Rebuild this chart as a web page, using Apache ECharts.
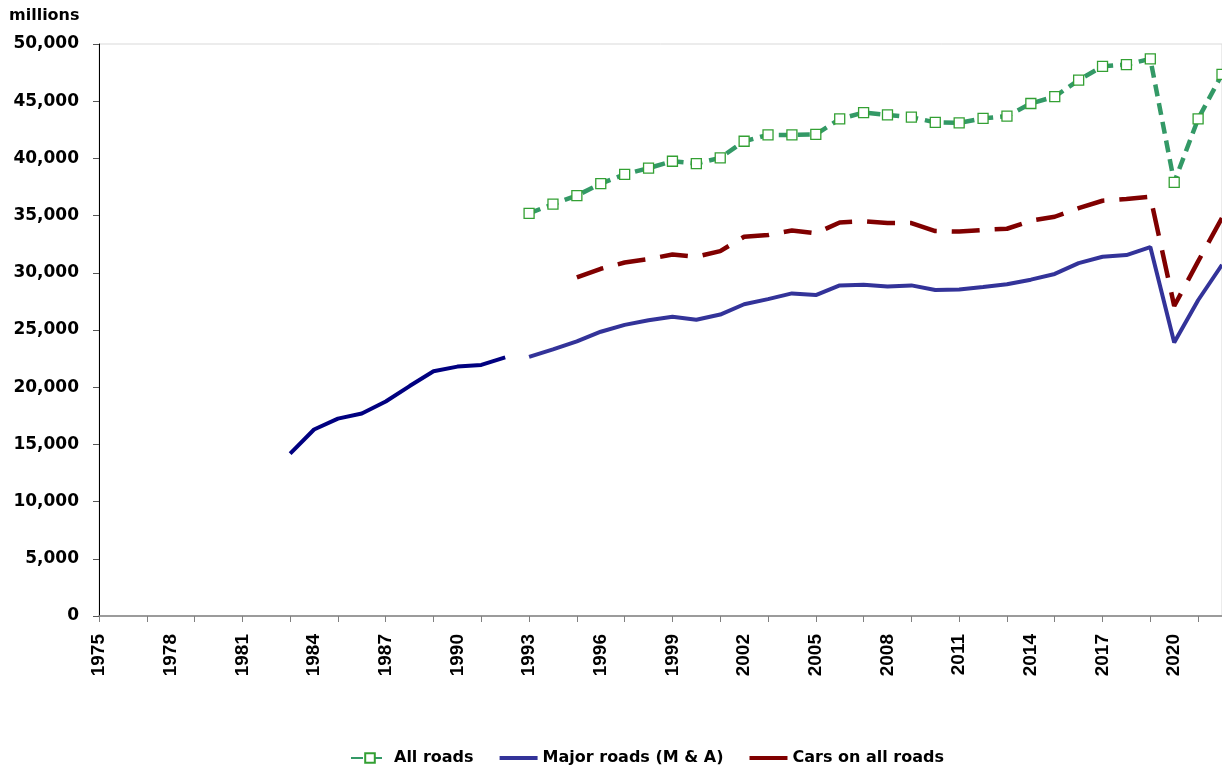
<!DOCTYPE html>
<html>
<head>
<meta charset="utf-8">
<script src="https://cdn.jsdelivr.net/npm/echarts@6/dist/echarts.min.js"></script>
<style>
html,body{margin:0;padding:0;background:#fff;}
#chart{width:1222px;height:769px;}
</style>
</head>
<body>
<div id="chart"></div>
<script>
var years = [];
for (var y = 1975; y <= 2022; y++) years.push(String(y));

var yTicks = [0, 5000, 10000, 15000, 20000, 25000, 30000, 35000, 40000, 45000, 50000];

// Major roads (M & A), earlier series 1983-1992
var majorEarlyYears = [1983,1984,1985,1986,1987,1988,1989,1990,1991,1992];
var majorEarlyVals  = [14200,16300,17250,17700,18750,20100,21400,21800,21950,22600];

// Major roads (M & A), 1993-2022
var majorYears = [1993,1994,1995,1996,1997,1998,1999,2000,2001,2002,2003,2004,2005,2006,2007,2008,2009,2010,2011,2012,2013,2014,2015,2016,2017,2018,2019,2020,2021,2022];
var majorVals  = [22650,23300,24000,24850,25450,25850,26150,25900,26350,27250,27700,28200,28050,28900,28950,28800,28900,28500,28550,28750,29000,29400,29900,30850,31400,31550,32250,23900,27600,30700];

// All roads, 1993-2022
var allYears = majorYears;
var allVals  = [35200,36000,36750,37800,38600,39150,39750,39550,40050,41500,42050,42050,42100,43450,44000,43800,43600,43150,43100,43500,43700,44800,45400,46850,48050,48200,48700,37900,43450,47350];

// Cars on all roads, 1995-2022
var carsYears = [1995,1996,1997,1998,1999,2000,2001,2002,2003,2004,2005,2006,2007,2008,2009,2010,2011,2012,2013,2014,2015,2016,2017,2018,2019,2020,2021,2022];
var carsVals  = [29600,30350,30900,31200,31600,31400,31900,33150,33300,33700,33450,34400,34500,34350,34350,33650,33600,33750,33850,34550,34900,35650,36300,36450,36650,27100,31000,34800];

function toSeries(ys, vs) {
  var out = years.map(function(){ return null; });
  ys.forEach(function(yr, i){ out[yr - 1975] = vs[i]; });
  return out;
}

var barIcon = 'path://M0,0 L40,0 L40,4 L0,4 Z';

var chart = echarts.init(document.getElementById('chart'), null, {renderer: 'canvas'});
chart.setOption({
  animation: false,
  backgroundColor: '#fff',
  title: {
    text: 'millions',
    left: 9, top: 8, padding: 0,
    textStyle: {fontFamily: 'DejaVu Sans', fontWeight: 'bold', fontSize: 16, color: '#000'}
  },
  legend: {
    data: [
      {name: 'All roads'},
      {name: 'Major roads (M & A)', icon: barIcon, itemStyle: {color: '#333399'}},
      {name: 'Cars on all roads', icon: barIcon, itemStyle: {color: '#800000'}}
    ],
    left: 345, top: 745,
    itemWidth: 38, itemHeight: 12, itemGap: 26,
    textStyle: {fontFamily: 'DejaVu Sans', fontWeight: 'bold', fontSize: 16, color: '#000'}
  },
  grid: {
    left: 99, top: 44, width: 1127, height: 572,
    show: true, borderColor: '#d9d9d9', borderWidth: 1, backgroundColor: 'transparent',
    containLabel: false
  },
  xAxis: {
    type: 'category',
    data: years,
    boundaryGap: false,
    axisLine: {lineStyle: {color: '#808080', width: 1.5}},
    axisTick: {show: true, interval: 1, length: 6, inside: false, lineStyle: {color: '#808080', width: 1}},
    axisLabel: {
      interval: 2, rotate: 90, margin: 18,
      fontFamily: 'Liberation Sans', fontWeight: 'bold', fontSize: 19, color: '#000'
    },
    splitLine: {show: false}
  },
  yAxis: {
    type: 'value',
    min: yTicks[0], max: yTicks[yTicks.length - 1], interval: yTicks[1] - yTicks[0],
    axisLine: {show: true, lineStyle: {color: '#000', width: 1}},
    axisTick: {show: true, length: 6, lineStyle: {color: '#555', width: 1}},
    axisLabel: {
      margin: 20,
      fontFamily: 'DejaVu Sans', fontWeight: 'bold', fontSize: 17, color: '#000',
      formatter: function(v){ return v.toLocaleString('en-US'); }
    },
    splitLine: {show: false}
  },
  series: [
    {
      name: 'Major roads (M & A)',
      type: 'line',
      data: toSeries(majorYears, majorVals),
      showSymbol: false, symbol: 'none',
      lineStyle: {color: '#333399', width: 4},
      itemStyle: {color: '#333399'},
      z: 2
    },
    {
      name: 'Major roads early',
      type: 'line',
      data: toSeries(majorEarlyYears, majorEarlyVals),
      showSymbol: false, symbol: 'none',
      lineStyle: {color: '#000080', width: 4},
      itemStyle: {color: '#000080'},
      z: 2
    },
    {
      name: 'Cars on all roads',
      type: 'line',
      data: toSeries(carsYears, carsVals),
      showSymbol: false, symbol: 'none',
      lineStyle: {color: '#800000', width: 4.5, type: [28, 15]},
      itemStyle: {color: '#800000'},
      z: 3
    },
    {
      name: 'All roads',
      type: 'line',
      data: toSeries(allYears, allVals),
      symbol: 'rect', symbolSize: 10, showSymbol: true,
      lineStyle: {color: '#339966', width: 4.5, type: [12, 7]},
      itemStyle: {color: '#ffffff', borderColor: '#33a033', borderWidth: 1.3},
      z: 4
    }
  ]
});
</script>
</body>
</html>
